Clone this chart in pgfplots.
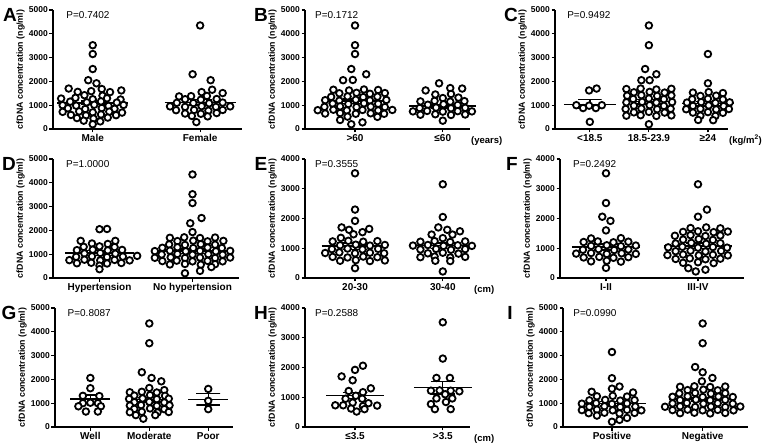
\documentclass[border=0pt]{standalone}
\usepackage{pgfplots}
\pgfplotsset{compat=1.18}
\usepackage{fontspec}
\setmainfont{Liberation Sans}
\pgfplotsset{
  panel/.style={
    scale only axis, anchor=south west, height=119pt,
    axis lines=left, axis line style={-, line width=1.3pt, black},
    tick align=outside, major tick length=3.5pt,
    tick style={line width=1.2pt, black},
    ymin=0, scaled y ticks=false,
    /pgf/number format/1000 sep={},
    /pgf/number format/assume math mode=true,
    yticklabel style={font=\bfseries\fontsize{8.5}{10}\selectfont, inner sep=1.5pt},
    xticklabel style={font=\bfseries\fontsize{10}{11}\selectfont, inner sep=2pt},
    ylabel={cfDNA concentration (ng/ml)},
    ylabel style={font=\bfseries\fontsize{8.8}{10}\selectfont, yshift=-1pt},
    clip=false, minor tick num=0,
  },
  dots/.style={only marks, mark=*, mark size=3.3pt,
    mark options={fill=white, draw=black, line width=1.8pt}},
  meanl/.style={black, line width=1.4pt, mark=none},
}
\tikzset{
  pval/.style={anchor=west, font=\fontsize{10}{11}\selectfont, inner sep=0pt},
  plet/.style={font=\bfseries\fontsize{19}{21}\selectfont, inner sep=0pt},
  unitl/.style={anchor=north west, font=\bfseries\fontsize{9.5}{10}\selectfont, inner sep=0pt},
}
\begin{document}
\begin{tikzpicture}
\useasboundingbox (0,0) rectangle (764pt,445pt);
% ---------------- A ----------------
\begin{axis}[panel, at={(53pt,316pt)}, width=189pt, xmin=-0.37, xmax=1.39, ymax=5000,
  ytick={0,1000,...,5000}, xtick={0,1}, xticklabels={Male,Female}]
\addplot[dots] table[row sep=\\, x expr=\thisrow{g}+\thisrow{k}*0.070, y=y]{
g k y\\
0 0 3520\\ 0 0 3150\\ 0 0 2520\\ 0 -0.6 2050\\ 0 0.5 1920\\
0 -3.2 1700\\ 0 1.2 1680\\
0 -2 1560\\ 0 -0.2 1590\\ 0 2.3 1550\\ 0 3.8 1620\\
0 -1.1 1420\\ 0 1.3 1400\\
0 -4.2 1280\\ 0 -2.3 1310\\ 0 0 1250\\ 0 1.9 1290\\ 0 3.7 1240\\
0 -3 1150\\ 0 -0.8 1120\\ 0 1.1 1160\\ 0 3.2 1110\\
0 -4 1000\\ 0 -2.2 980\\ 0 0.2 1020\\ 0 2.1 970\\ 0 4.1 1010\\
0 -3.3 870\\ 0 -1 840\\ 0 1.2 880\\ 0 2.9 850\\
0 -4 720\\ 0 -1.8 740\\ 0 0 700\\ 0 2.2 730\\ 0 3.9 690\\
0 -2.9 590\\ 0 -0.9 570\\ 0 1.1 610\\ 0 3.1 580\\
0 -2.1 460\\ 0 0.1 440\\ 0 2 480\\
0 -1.2 350\\ 0 1 320\\ 0 0 200\\
1 0 4350\\ 1 -1 2300\\ 1 1.4 2050\\ 1 1.6 1650\\
1 0.2 1550\\ 1 3 1510\\
1 -2.8 1370\\ 1 -1.2 1380\\ 1 0.9 1390\\
1 -2 1250\\ 1 0.1 1230\\ 1 2.2 1260\\
1 -3.1 1100\\ 1 -0.9 1090\\ 1 1.2 1080\\ 1 3 1110\\
1 -4 950\\ 1 -2 930\\ 1 0.2 960\\ 1 2.1 930\\ 1 4 950\\
1 -3.2 790\\ 1 -0.8 800\\ 1 1.1 770\\ 1 3 800\\
1 -2 650\\ 1 0.1 640\\ 1 2.2 670\\
1 -1.1 550\\ 1 1 530\\ 1 -0.5 290\\
};
\addplot[meanl] coordinates {(-0.33,1100) (0.33,1100)};
\addplot[meanl] coordinates {(-0.11,1180) (0.11,1180) (0,1180) (0,1020) (-0.11,1020) (0.11,1020)};
\addplot[meanl] coordinates {(0.67,1120) (1.33,1120)};
\addplot[meanl] coordinates {(0.89,1230) (1.11,1230) (1,1230) (1,1010) (0.89,1010) (1.11,1010)};
\node[pval] at (rel axis cs:0.07,0.96) {P=0.7402};
\end{axis}
% ---------------- B ----------------
\begin{axis}[panel, at={(305pt,316pt)}, width=165pt, xmin=-0.57, xmax=1.31, ymax=5000,
  ytick={0,1000,...,5000}, xtick={0,1}, xticklabels={>60,≤60}]
\addplot[dots] table[row sep=\\, x expr=\thisrow{g}+\thisrow{k}*0.085, y=y]{
g k y\\
0 0 4350\\ 0 0 3520\\ 0 0 3150\\ 0 -0.5 2520\\ 0 1.5 2300\\ 0 -1.6 2050\\ 0 -0.3 2060\\
0 -2.9 1650\\ 0 -0.8 1620\\ 0 1.2 1660\\ 0 3.1 1640\\
0 -2.1 1500\\ 0 0.2 1520\\ 0 2 1480\\ 0 4 1510\\
0 -3.2 1350\\ 0 -1 1370\\ 0 1.1 1340\\ 0 3 1360\\
0 -4 1210\\ 0 -2.1 1190\\ 0 0.1 1230\\ 0 2 1200\\ 0 4.2 1220\\
0 -3 1070\\ 0 -0.9 1050\\ 0 1.2 1080\\ 0 3.1 1060\\
0 -4.1 930\\ 0 -2 950\\ 0 0.2 920\\ 0 2.1 940\\ 0 4 920\\
0 -5 790\\ 0 -2.9 810\\ 0 -1.1 780\\ 0 1 800\\ 0 3.1 780\\ 0 5 800\\
0 -4 650\\ 0 -2 670\\ 0 0.1 640\\ 0 2.1 660\\ 0 3.9 640\\
0 -1 520\\ 0 3 510\\ 0 -2 380\\ 0 1 280\\ 0 -0.5 200\\
1 -0.5 1920\\ 1 1 1720\\ 1 2.6 1700\\ 1 -2.3 1620\\
1 -1 1450\\ 1 1.1 1470\\
1 0 1300\\ 1 2.1 1320\\
1 -3 1160\\ 1 -1.1 1180\\ 1 1 1150\\ 1 2.9 1170\\
1 -2 1020\\ 1 0.1 1040\\ 1 2 1010\\
1 -3.1 880\\ 1 -0.9 900\\ 1 1.1 870\\ 1 3 890\\
1 -4 740\\ 1 -2.1 760\\ 1 0 730\\ 1 2 750\\ 1 3.9 740\\
1 -3 600\\ 1 -1 620\\ 1 1.1 590\\ 1 3 610\\
1 0 350\\
};
\addplot[meanl] coordinates {(-0.38,1170) (0.38,1170)};
\addplot[meanl] coordinates {(-0.14,1260) (0.14,1260) (0,1260) (0,1080) (-0.14,1080) (0.14,1080)};
\addplot[meanl] coordinates {(0.62,960) (1.38,960)};
\addplot[meanl] coordinates {(0.86,1030) (1.14,1030) (1,1030) (1,890) (0.86,890) (1.14,890)};
\node[pval] at (rel axis cs:0.06,0.96) {P=0.1712};
\node[unitl] at (rel axis cs:1,0) [xshift=1pt, yshift=-7pt] {(years)};
\end{axis}
% ---------------- C ----------------
\begin{axis}[panel, at={(555pt,316pt)}, width=173pt, xmin=-0.59, xmax=2.34, ymax=5000,
  ytick={0,1000,...,5000}, xtick={0,1,2}, xticklabels={<18.5,18.5-23.9,≥24}]
\addplot[dots] table[row sep=\\, x expr=\thisrow{g}+\thisrow{k}*0.127, y=y]{
g k y\\
0 0.9 1700\\ 0 -0.1 1620\\ 0 -1.8 1000\\ 0 1.6 1000\\ 0 -0.1 980\\ 0 -0.9 880\\ 0 0.8 880\\ 0 0 300\\
1 0 4350\\ 1 0 3520\\ 1 -0.5 2520\\ 1 1 2300\\ 1 -1 2050\\ 1 0.1 2050\\
1 -3 1680\\ 1 -1.1 1700\\ 1 1 1660\\ 1 3 1690\\
1 -2 1540\\ 1 0.1 1560\\ 1 2.1 1530\\
1 -2.9 1400\\ 1 -1 1420\\ 1 1.1 1390\\ 1 3 1410\\
1 -2.1 1260\\ 1 0 1280\\ 1 2 1250\\
1 -3 1120\\ 1 -0.9 1140\\ 1 1 1110\\ 1 3.1 1130\\
1 -2 980\\ 1 0.1 1000\\ 1 2 970\\
1 -3.1 840\\ 1 -1 860\\ 1 1.1 830\\ 1 2.9 850\\
1 -2 700\\ 1 0 720\\ 1 2.1 690\\
1 -3 560\\ 1 -1.1 580\\ 1 1 550\\ 1 3 570\\
1 0 200\\
2 0 3150\\ 2 0 1920\\
2 -2 1530\\ 2 0.1 1550\\ 2 2 1510\\
2 -1 1390\\ 2 1.1 1400\\
2 -2.1 1250\\ 2 0 1270\\ 2 2 1240\\
2 -2.8 1110\\ 2 -0.9 1130\\ 2 1 1100\\ 2 2.9 1120\\
2 -2 970\\ 2 0.1 990\\ 2 2.1 960\\
2 -2.9 830\\ 2 -1 850\\ 2 1.1 820\\ 2 2.8 840\\
2 -2 690\\ 2 0 710\\ 2 2 680\\
2 -1 560\\ 2 1 550\\
2 -1.3 380\\ 2 0.7 370\\
};
\addplot[meanl] coordinates {(-0.44,1040) (0.44,1040)};
\addplot[meanl] coordinates {(-0.2,1230) (0.2,1230) (0,1230) (0,850) (-0.2,850) (0.2,850)};
\addplot[meanl] coordinates {(0.56,1150) (1.44,1150)};
\addplot[meanl] coordinates {(0.8,1250) (1.2,1250) (1,1250) (1,1050) (0.8,1050) (1.2,1050)};
\addplot[meanl] coordinates {(1.56,1060) (2.44,1060)};
\addplot[meanl] coordinates {(1.8,1150) (2.2,1150) (2,1150) (2,970) (1.8,970) (2.2,970)};
\node[pval] at (rel axis cs:0.07,0.96) {P=0.9492};
\node[unitl] at (rel axis cs:1,0) [xshift=1pt, yshift=-6pt] {(kg/m\textsuperscript{2})};
\end{axis}
% ---------------- D ----------------
\begin{axis}[panel, at={(53pt,167pt)}, width=186pt, xmin=-0.5, xmax=1.5, ymax=5000,
  ytick={0,1000,...,5000}, xtick={0,1}, xticklabels={Hypertension,No hypertension}]
\addplot[dots] table[row sep=\\, x expr=\thisrow{g}+\thisrow{k}*0.081, y=y]{
g k y\\
0 0 2050\\ 0 1 2060\\ 0 -2.5 1560\\ 0 2.1 1560\\
0 -1 1450\\ 0 1.1 1430\\
0 -2.1 1310\\ 0 0 1330\\ 0 2 1300\\
0 -3 1170\\ 0 -0.9 1190\\ 0 1.1 1160\\ 0 3 1180\\
0 -2 1030\\ 0 0.1 1050\\ 0 2.1 1020\\
0 -3.1 890\\ 0 -1 910\\ 0 1 880\\ 0 3.1 900\\ 0 5 930\\
0 -4 750\\ 0 -2 770\\ 0 0.1 740\\ 0 2 760\\ 0 4 740\\
0 -3 620\\ 0 -1.1 640\\ 0 1 610\\ 0 2.9 630\\
0 0 520\\ 0 0 370\\
1 0 4350\\ 1 0 3520\\ 1 0 3150\\ 1 1.2 2520\\ 1 -0.3 2300\\ 1 0 1930\\
1 -3 1690\\ 1 -1.1 1710\\ 1 1 1680\\ 1 3 1700\\
1 -2 1550\\ 1 0.1 1570\\ 1 2 1540\\ 1 4.1 1560\\
1 -3.1 1410\\ 1 -1 1390\\ 1 1.1 1420\\ 1 3 1400\\
1 -4 1270\\ 1 -2 1290\\ 1 0.1 1260\\ 1 2 1280\\ 1 3.9 1260\\
1 -5 1130\\ 1 -3 1150\\ 1 -0.9 1120\\ 1 1 1140\\ 1 3.1 1120\\ 1 5 1140\\
1 -4.1 990\\ 1 -2 1010\\ 1 0 980\\ 1 2.1 1000\\ 1 4 980\\
1 -5 850\\ 1 -2.9 870\\ 1 -1 840\\ 1 1 860\\ 1 3 840\\ 1 5 860\\
1 -4 710\\ 1 -2.1 730\\ 1 0 700\\ 1 2 720\\ 1 4 700\\
1 -3 570\\ 1 -1 590\\ 1 1.1 560\\ 1 3 580\\
1 2.5 460\\ 1 1 300\\ 1 -1 200\\
};
\addplot[meanl] coordinates {(-0.37,1050) (0.37,1050)};
\addplot[meanl] coordinates {(-0.13,1150) (0.13,1150) (0,1150) (0,950) (-0.13,950) (0.13,950)};
\addplot[meanl] coordinates {(0.63,1130) (1.37,1130)};
\addplot[meanl] coordinates {(0.87,1220) (1.13,1220) (1,1220) (1,1040) (0.87,1040) (1.13,1040)};
\node[pval] at (rel axis cs:0.07,0.96) {P=1.0000};
\end{axis}
% ---------------- E ----------------
\begin{axis}[panel, at={(305pt,167pt)}, width=165pt, xmin=-0.57, xmax=1.31, ymax=4000,
  ytick={0,1000,...,4000}, xtick={0,1}, xticklabels={20-30,30-40}]
\addplot[dots] table[row sep=\\, x expr=\thisrow{g}+\thisrow{k}*0.085, y=y]{
g k y\\
0 0 3520\\ 0 0 2300\\ 0 0 1920\\ 0 -1.8 1700\\ 0 -0.8 1620\\ 0 1.9 1650\\ 0 1 1540\\ 0 -0.2 1470\\ 0 -1.9 1350\\
0 -3 1230\\ 0 -0.9 1250\\ 0 1.1 1220\\ 0 3 1240\\
0 -2 1100\\ 0 0.1 1120\\ 0 2 1090\\ 0 4 1110\\
0 -3.1 970\\ 0 -1 990\\ 0 1 960\\ 0 3.1 980\\
0 -4 840\\ 0 -2.1 860\\ 0 0 830\\ 0 2 850\\ 0 3.9 830\\
0 -3 710\\ 0 -1 690\\ 0 1.1 720\\ 0 3 700\\
0 -2 580\\ 0 0.1 600\\ 0 2 570\\ 0 4 590\\
0 0 330\\
1 0 3150\\ 1 0 2050\\ 1 -0.6 1700\\ 1 0.6 1620\\ 1 2.3 1570\\ 1 -1.5 1460\\ 1 1.3 1460\\ 1 0 1340\\
1 -3 1220\\ 1 -1.1 1240\\ 1 1 1210\\ 1 3 1230\\
1 -4 1090\\ 1 -2 1110\\ 1 0.1 1080\\ 1 2 1100\\ 1 3.9 1080\\
1 -3 960\\ 1 -0.9 980\\ 1 1.1 950\\ 1 3 970\\
1 -2 830\\ 1 0 850\\ 1 2.1 820\\
1 -3 700\\ 1 -1.1 720\\ 1 1 690\\ 1 3 710\\
1 -1 580\\ 1 1 570\\
1 0 220\\
};
\addplot[meanl] coordinates {(-0.38,1070) (0.38,1070)};
\addplot[meanl] coordinates {(-0.14,1180) (0.14,1180) (0,1180) (0,960) (-0.14,960) (0.14,960)};
\addplot[meanl] coordinates {(0.62,1090) (1.38,1090)};
\addplot[meanl] coordinates {(0.86,1180) (1.14,1180) (1,1180) (1,1000) (0.86,1000) (1.14,1000)};
\node[pval] at (rel axis cs:0.06,0.96) {P=0.3555};
\node[unitl] at (rel axis cs:1,0) [xshift=4pt, yshift=-7pt] {(cm)};
\end{axis}
% ---------------- F ----------------
\begin{axis}[panel, at={(560pt,167pt)}, width=184pt, xmin=-0.5, xmax=1.5, ymax=4000,
  ytick={0,1000,...,4000}, xtick={0,1}, xticklabels={I-II,III-IV}]
\addplot[dots] table[row sep=\\, x expr=\thisrow{g}+\thisrow{k}*0.081, y=y]{
g k y\\
0 0 3520\\ 0 0 2520\\ 0 -0.5 2060\\ 0 0.6 1920\\ 0 0 1600\\ 0 -2 1330\\ 0 2 1340\\
0 -3 1210\\ 0 -1.1 1230\\ 0 1 1200\\ 0 3 1220\\
0 -2 1080\\ 0 0.1 1100\\ 0 2 1070\\ 0 4 1090\\
0 -3.1 950\\ 0 -1 970\\ 0 1.1 940\\ 0 3 960\\
0 -4 820\\ 0 -2 840\\ 0 0.1 810\\ 0 2.1 830\\ 0 4 810\\
0 -3 690\\ 0 -0.9 710\\ 0 1 680\\ 0 3 700\\
0 -2 560\\ 0 0.1 580\\ 0 2 550\\
0 0 340\\
1 0 3150\\ 1 1.2 2300\\ 1 0 2060\\
1 -1 1680\\ 1 1.1 1700\\ 1 3 1670\\
1 -2 1550\\ 1 0 1570\\ 1 2.1 1540\\ 1 4 1560\\
1 -3.1 1420\\ 1 -1 1440\\ 1 1 1410\\ 1 3 1430\\
1 -2 1290\\ 1 0.1 1310\\ 1 2 1280\\
1 -3 1160\\ 1 -0.9 1180\\ 1 1.1 1150\\ 1 3 1170\\
1 -4 1030\\ 1 -2.1 1050\\ 1 0 1020\\ 1 2 1040\\ 1 3.9 1020\\
1 -3 900\\ 1 -1 920\\ 1 1 890\\ 1 3.1 910\\
1 -4.1 770\\ 1 -2 790\\ 1 0.1 760\\ 1 2 780\\ 1 4 760\\
1 -3 640\\ 1 -1.1 660\\ 1 1 630\\ 1 3 650\\
1 -2 510\\ 1 0 530\\ 1 2.1 500\\
1 -1.3 330\\ 1 1 280\\ 1 -0.3 220\\
};
\addplot[meanl] coordinates {(-0.37,1040) (0.37,1040)};
\addplot[meanl] coordinates {(-0.13,1140) (0.13,1140) (0,1140) (0,940) (-0.13,940) (0.13,940)};
\addplot[meanl] coordinates {(0.63,1080) (1.37,1080)};
\addplot[meanl] coordinates {(0.87,1170) (1.13,1170) (1,1170) (1,990) (0.87,990) (1.13,990)};
\node[pval] at (rel axis cs:0.07,0.96) {P=0.2492};
\end{axis}
% ---------------- G ----------------
\begin{axis}[panel, at={(55pt,18pt)}, width=178pt, xmin=-0.6, xmax=2.42, ymax=5000,
  ytick={0,1000,...,5000}, xtick={0,1,2}, xticklabels={Well,Moderate,Poor}]
\addplot[dots] table[row sep=\\, x expr=\thisrow{g}+\thisrow{k}*0.127, y=y]{
g k y\\
0 0 2060\\ 0 0 1630\\ 0 -1 1310\\ 0 1.2 1300\\ 0 -1 1000\\ 0 0 1020\\ 0 1 1000\\ 0 -1.6 870\\ 0 1.4 870\\ 0 -0.6 650\\ 0 1 650\\
1 0 4350\\ 1 0 3520\\ 1 -1 2300\\ 1 0.3 2060\\ 1 1.6 1920\\ 1 0 1640\\ 1 2 1550\\
1 -2.6 1460\\ 1 -1 1480\\ 1 1 1450\\
1 -2 1320\\ 1 0.1 1340\\ 1 2.1 1310\\
1 -2.7 1180\\ 1 -0.9 1200\\ 1 1 1170\\ 1 2.6 1190\\
1 -2 1040\\ 1 0 1060\\ 1 2 1030\\
1 -2.6 900\\ 1 -1.1 920\\ 1 1 890\\ 1 2.7 910\\
1 -2 760\\ 1 0.1 780\\ 1 2 750\\
1 -2.6 620\\ 1 -1 640\\ 1 1.1 610\\ 1 2.6 630\\
1 -1.8 500\\ 1 0.8 500\\ 1 -0.8 350\\
2 0 1600\\ 2 0 1100\\ 2 0 750\\
};
\addplot[meanl] coordinates {(-0.34,1170) (0.34,1170)};
\addplot[meanl] coordinates {(-0.2,1350) (0.2,1350) (0,1350) (0,990) (-0.2,990) (0.2,990)};
\addplot[meanl] coordinates {(0.66,1150) (1.34,1150)};
\addplot[meanl] coordinates {(0.8,1250) (1.2,1250) (1,1250) (1,1050) (0.8,1050) (1.2,1050)};
\addplot[meanl] coordinates {(1.66,1160) (2.34,1160)};
\addplot[meanl] coordinates {(1.8,1400) (2.2,1400) (2,1400) (2,920) (1.8,920) (2.2,920)};
\node[pval] at (rel axis cs:0.07,0.96) {P=0.8087};
\end{axis}
% ---------------- H ----------------
\begin{axis}[panel, at={(305pt,18pt)}, width=165pt, xmin=-0.57, xmax=1.31, ymax=4000,
  ytick={0,1000,...,4000}, xtick={0,1}, xticklabels={≤3.5,>3.5}]
\addplot[dots] table[row sep=\\, x expr=\thisrow{g}+\thisrow{k}*0.090, y=y]{
g k y\\
0 1 2060\\ 0 0 1920\\ 0 -1.7 1700\\ 0 -0.3 1570\\ 0 2 1300\\ 0 -0.8 1210\\ 0 1 1170\\ 0 0.1 1050\\
0 -1.2 950\\ 0 0.9 950\\ 0 -0.3 820\\ 0 1.7 800\\ 0 -2.5 730\\ 0 -1.5 730\\ 0 1 700\\ 0 2.8 720\\
0 -0.5 620\\ 0 1.2 600\\ 0 0.2 520\\
1 0 3520\\ 1 0 2300\\ 1 -0.8 1650\\ 1 0.9 1650\\ 1 -1.5 1220\\ 1 -0.4 1230\\ 1 1 1220\\ 1 2.1 1200\\
1 0.3 1100\\ 1 -0.8 960\\ 1 1.2 960\\ 1 0.4 840\\ 1 -1.5 770\\ 1 -1 600\\ 1 1 600\\
};
\addplot[meanl] coordinates {(-0.33,1050) (0.33,1050)};
\addplot[meanl] coordinates {(-0.14,1150) (0.14,1150) (0,1150) (0,950) (-0.14,950) (0.14,950)};
\addplot[meanl] coordinates {(0.67,1320) (1.33,1320)};
\addplot[meanl] coordinates {(0.86,1530) (1.14,1530) (1,1530) (1,1110) (0.86,1110) (1.14,1110)};
\node[pval] at (rel axis cs:0.06,0.96) {P=0.2588};
\node[unitl] at (rel axis cs:1,0) [xshift=4pt, yshift=-7pt] {(cm)};
\end{axis}
% ---------------- I ----------------
\begin{axis}[panel, at={(563pt,18pt)}, width=185pt, xmin=-0.54, xmax=1.5, ymax=5000,
  ytick={0,1000,...,5000}, xtick={0,1}, xticklabels={Positive,Negative}]
\addplot[dots] table[row sep=\\, x expr=\thisrow{g}+\thisrow{k}*0.083, y=y]{
g k y\\
0 0 3150\\ 0 0 2050\\ 0 1 1700\\ 0 0 1610\\ 0 -2.7 1480\\ 0 2.8 1450\\
0 -2 1290\\ 0 0.1 1310\\ 0 2 1280\\
0 -3 1120\\ 0 -0.9 1140\\ 0 1.1 1110\\ 0 3 1130\\
0 -4 980\\ 0 -2.1 1000\\ 0 0 970\\ 0 2 990\\
0 -3 850\\ 0 -1 870\\ 0 1.1 840\\ 0 3.1 860\\
0 -4 710\\ 0 -2 730\\ 0 0.1 700\\ 0 2 720\\ 0 3.9 700\\
0 -3.1 580\\ 0 -1 600\\ 0 1 570\\ 0 3 590\\
0 -2 480\\ 0 2 380\\ 0 1 300\\ 0 0 220\\
1 0 4350\\ 1 0 3520\\ 1 -1 2520\\ 1 0 2300\\ 1 1.3 2060\\ 1 -0.1 1920\\
1 -3 1690\\ 1 -1.1 1710\\ 1 1 1680\\ 1 3 1700\\
1 -2 1550\\ 1 0.1 1570\\ 1 2 1540\\
1 -3.1 1410\\ 1 -1 1430\\ 1 1.1 1400\\ 1 3 1420\\
1 -4 1270\\ 1 -2 1290\\ 1 0 1260\\ 1 2.1 1280\\ 1 4 1260\\
1 -3 1130\\ 1 -0.9 1150\\ 1 1 1120\\ 1 3 1140\\
1 -4 990\\ 1 -2.1 1010\\ 1 0.1 980\\ 1 2 1000\\ 1 4 980\\
1 -5 850\\ 1 -3 870\\ 1 -1 840\\ 1 1.1 860\\ 1 3 840\\ 1 5 860\\
1 -4 710\\ 1 -2 730\\ 1 0 700\\ 1 2 720\\ 1 4.1 700\\
1 -3 580\\ 1 -1.1 600\\ 1 1 570\\ 1 3 590\\
};
\addplot[meanl] coordinates {(-0.37,980) (0.37,980)};
\addplot[meanl] coordinates {(-0.13,1080) (0.13,1080) (0,1080) (0,880) (-0.13,880) (0.13,880)};
\addplot[meanl] coordinates {(0.63,1170) (1.37,1170)};
\addplot[meanl] coordinates {(0.87,1250) (1.13,1250) (1,1250) (1,1090) (0.87,1090) (1.13,1090)};
\node[pval] at (rel axis cs:0.055,0.96) {P=0.0990};
\end{axis}
% panel letters
\node[plet] at (10pt,430pt) {A};
\node[plet] at (261pt,430pt) {B};
\node[plet] at (511pt,430pt) {C};
\node[plet] at (9pt,281pt) {D};
\node[plet] at (261pt,281pt) {E};
\node[plet] at (512pt,281pt) {F};
\node[plet] at (9pt,132pt) {G};
\node[plet] at (261pt,132pt) {H};
\node[plet] at (510pt,132pt) {I};
\end{tikzpicture}
\end{document}
